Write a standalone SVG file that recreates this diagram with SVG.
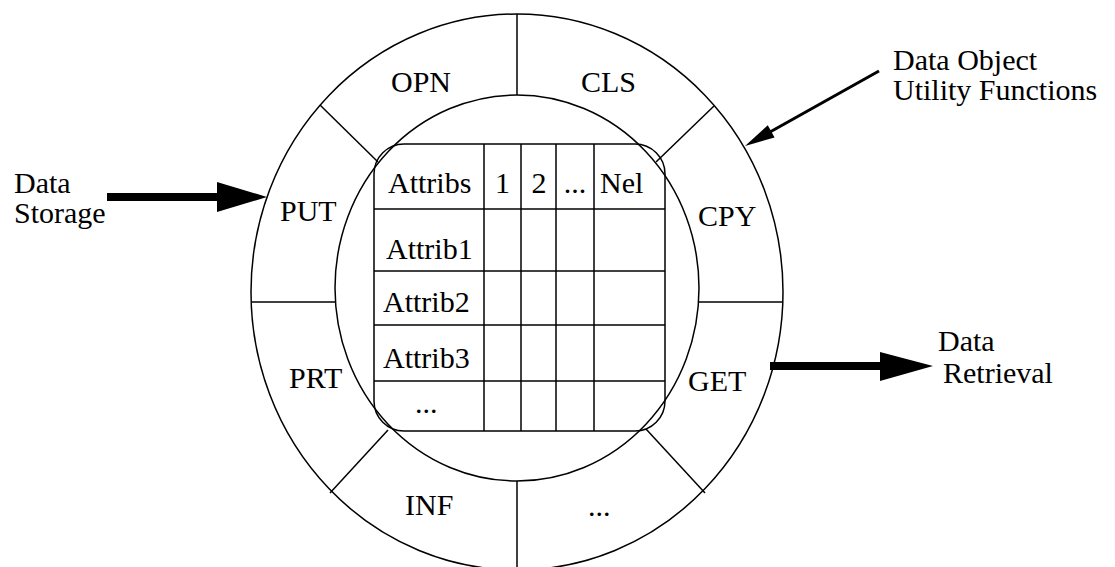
<svg xmlns="http://www.w3.org/2000/svg" width="1115" height="567" viewBox="0 0 1115 567">
<style>
.ln{fill:none;stroke:#000;stroke-width:1.5}
.t{font-family:"Liberation Serif","Times New Roman",serif;font-size:30px;fill:#000}
.m{text-anchor:middle}
.arr{fill:#000;stroke:none}
</style>
<rect width="1115" height="567" fill="#fff"/>
<g id="ring">
<ellipse class="ln" cx="517" cy="292" rx="266" ry="278"/>
<ellipse class="ln" cx="517" cy="288" rx="182" ry="193"/>
<line class="ln" x1="517" y1="14" x2="517" y2="95"/>
<line class="ln" x1="517" y1="481" x2="517" y2="567"/>
<line class="ln" x1="252" y1="302" x2="336" y2="302"/>
<line class="ln" x1="698" y1="302" x2="782" y2="302"/>
<line class="ln" x1="320" y1="105" x2="378" y2="162"/>
<line class="ln" x1="714" y1="106" x2="656" y2="162"/>
<line class="ln" x1="388" y1="430" x2="330" y2="493"/>
<line class="ln" x1="646" y1="429" x2="705" y2="493"/>
</g>
<g id="seg-opn"><text class="t" x="391" y="92">OPN</text></g>
<g id="seg-cls"><text class="t" x="581" y="92">CLS</text></g>
<g id="seg-put"><text class="t" x="280" y="221">PUT</text></g>
<g id="seg-cpy"><text class="t" x="698" y="226">CPY</text></g>
<g id="seg-prt"><text class="t" x="289" y="388">PRT</text></g>
<g id="seg-get"><text class="t" x="688" y="391">GET</text></g>
<g id="seg-inf"><text class="t" x="405" y="515">INF</text></g>
<g id="seg-more"><text class="t" x="588" y="516">...</text></g>
<g id="table">
<rect class="ln" x="374" y="144" width="291" height="287" rx="30" ry="30"/>
<line class="ln" x1="484" y1="144" x2="484" y2="431"/>
<line class="ln" x1="521" y1="144" x2="521" y2="431"/>
<line class="ln" x1="556" y1="144" x2="556" y2="431"/>
<line class="ln" x1="594" y1="144" x2="594" y2="431"/>
<line class="ln" x1="374" y1="209" x2="665" y2="209"/>
<line class="ln" x1="374" y1="271" x2="665" y2="271"/>
<line class="ln" x1="374" y1="325" x2="665" y2="325"/>
<line class="ln" x1="374" y1="381" x2="665" y2="381"/>
<text class="t" x="388" y="193">Attribs</text>
<text class="t m" x="502.5" y="193">1</text>
<text class="t m" x="539" y="193">2</text>
<text class="t m" x="575" y="193">...</text>
<text class="t" x="600" y="193">Nel</text>
<text class="t" x="386" y="259">Attrib1</text>
<text class="t" x="383" y="312">Attrib2</text>
<text class="t" x="383" y="368">Attrib3</text>
<text class="t" x="415" y="413">...</text>
</g>
<g id="label-storage"><text class="t" x="14" y="193">Data</text><text class="t" x="14" y="223">Storage</text></g>
<g id="label-retrieval"><text class="t" x="938" y="351">Data</text><text class="t" x="943" y="383">Retrieval</text></g>
<g id="label-utility"><text class="t" x="893" y="70">Data Object</text><text class="t" x="893" y="100">Utility Functions</text></g>
<g id="connectors">
<rect class="arr" x="107" y="193" width="112" height="8"/>
<polygon class="arr" points="217,182 267,197 217,212"/>
<rect class="arr" x="770" y="362" width="112" height="8"/>
<polygon class="arr" points="880,352 933,366 880,381"/>
<line x1="879" y1="71" x2="770" y2="132" stroke="#000" stroke-width="3"/>
<polygon class="arr" points="745,146 767.8,125.3 774.6,137.5"/>
</g>
</svg>
